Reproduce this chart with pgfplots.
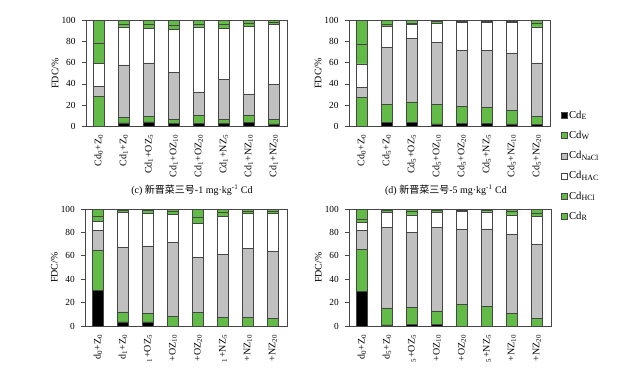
\documentclass[border=0pt]{standalone}
\usepackage{pgfplots}
\pgfplotsset{compat=1.18}
\usepackage{pgfplotstable}
\usepackage{fontspec}
\setmainfont{Liberation Serif}
\newfontfamily\cjk{Noto Sans CJK SC}
\definecolor{cgreen}{RGB}{98,187,70}
\definecolor{cgray}{RGB}{192,192,192}
\definecolor{cedge}{RGB}{70,70,70}

% columns: E = Cd_E, W = Cd_W, N = Cd_NaCl, H = Cd_HAC, C = Cd_HCl, R = Cd_R
\pgfplotstableread{
x E W N H C R
0 0 28 9.5 22 19 21.5
1 3 5 50 36 3 3
2 4 5 51 33 4 3
3 2.5 3.5 45 41 4 4
4 2.5 7.5 22 62 3 3
5 2.5 3.5 38 49 3.5 3.5
6 3.5 7 20 64 3 2.5
7 2 4 33.5 57 2 1.5
}\dataA
\pgfplotstableread{
x E W N H C R
0 0 27.5 9.5 22 19 22
1 3.5 17 54 20 2.5 3
2 3.5 19.5 60.5 13 1.5 2
3 2 18.5 59 18 1.5 1
4 2.5 16 53 27 1 0.5
5 2.5 15 54 27 1 0.5
6 2 13 54.5 29 1 0.5
7 1.5 7.5 51 34 4 2
}\dataB
\pgfplotstableread{
x E W N H C R
0 30.5 34.5 16.5 8 4 6.5
1 3.5 8.5 55.5 29.5 1.5 1.5
2 3.5 7.5 57.5 27.5 2.5 1.5
3 0 8.5 63 24 2.5 2
4 0 11.5 47 29.5 5 7
5 0 7.5 53.5 32.5 3.5 3
6 0 7.5 59 29.5 2 2
7 0 6.5 57.5 32 2 2
}\dataC
\pgfplotstableread{
x E W N H C R
0 29.5 36 16 7 3 8.5
1 1 14.5 69 12.5 1.5 1.5
2 1.5 14.5 64 15 3 2
3 1.5 11.5 71 13 1.5 1.5
4 0 18.5 64 15.5 1 1
5 0 16.5 66.5 14.5 1.5 1
6 0 11 67 17 3 2
7 0 6.5 63 24 3 3.5
}\dataD

\pgfplotsset{
  panel/.style={
    scale only axis,
    ybar stacked,
    bar width=0.44,
    ymin=0, ymax=100,
    xmin=-0.5, xmax=7.56,
    width=151.1pt,
    ytick={0,20,...,100},
    xtick={0,...,7},
    xticklabel style={rotate=90, anchor=east, font=\fontsize{7.5}{8}\selectfont},
    yticklabel style={font=\fontsize{7}{8}\selectfont, xshift=-1.5pt},
    /pgf/number format/assume math mode=true,
    tick pos=left,
    tick align=outside,
    major tick length=3pt,
    xtick style={draw=none},
    ytick style={cedge, line width=0.5pt},
    axis line style={cedge, line width=0.6pt},
    ylabel={FDC/\%},
    ylabel style={font=\fontsize{7.5}{8}\selectfont, at={(axis description cs:-0.154,0.5)}, anchor=center},
    every axis plot/.append style={draw=cedge, line width=0.4pt},
  },
  sE/.style={fill=black},
  sW/.style={fill=cgreen},
  sN/.style={fill=cgray},
  sH/.style={fill=white},
  sC/.style={fill=cgreen},
  sR/.style={fill=cgreen},
}

\newcommand{\bars}[1]{%
  \addplot[sE] table[x=x,y=E]{#1};
  \addplot[sW] table[x=x,y=W]{#1};
  \addplot[sN] table[x=x,y=N]{#1};
  \addplot[sH] table[x=x,y=H]{#1};
  \addplot[sC] table[x=x,y=C]{#1};
  \addplot[sR] table[x=x,y=R]{#1};
}

\begin{document}
\begin{tikzpicture}
\useasboundingbox (0pt,0pt) rectangle (480pt,-285pt);

% (a)
\begin{axis}[panel, at={(64.7pt,-94.5pt)}, anchor=south west, height=79pt,
  xticklabels={Cd\textsubscript{0}+Z\textsubscript{0},Cd\textsubscript{1}+Z\textsubscript{0},Cd\textsubscript{1}+OZ\textsubscript{5},Cd\textsubscript{1}+OZ\textsubscript{10},Cd\textsubscript{1}+OZ\textsubscript{20},Cd\textsubscript{1}+NZ\textsubscript{5},Cd\textsubscript{1}+NZ\textsubscript{10},Cd\textsubscript{1}+NZ\textsubscript{20}}]
\bars{\dataA}
\end{axis}

% (b)
\begin{axis}[panel, at={(261.9pt,-94.5pt)}, anchor=south west, height=79pt,
  xticklabels={Cd\textsubscript{0}+Z\textsubscript{0},Cd\textsubscript{5}+Z\textsubscript{0},Cd\textsubscript{5}+OZ\textsubscript{5},Cd\textsubscript{5}+OZ\textsubscript{10},Cd\textsubscript{5}+OZ\textsubscript{20},Cd\textsubscript{5}+NZ\textsubscript{5},Cd\textsubscript{5}+NZ\textsubscript{10},Cd\textsubscript{5}+NZ\textsubscript{20}},
  legend cell align=left,
  legend image code/.code={\draw[#1, line width=0.4pt] (0pt,-2.2pt) rectangle (4.5pt,2.3pt);},
  legend style={at={(1.051,0.165)}, anchor=north west, draw=none, fill=none,
    inner sep=0pt, row sep=5.15pt, font=\fontsize{8}{9}\selectfont,
    nodes={text height=6pt, text depth=2pt, inner sep=1pt}}]
\bars{\dataB}
\legend{Cd\textsubscript{E},Cd\textsubscript{W},Cd\textsubscript{NaCl},Cd\textsubscript{HAC},Cd\textsubscript{HCl},Cd\textsubscript{R}}
\end{axis}

% (c)
\begin{axis}[panel, at={(64.1pt,-244.5pt)}, anchor=south west, height=87.75pt,
  xticklabels={d\textsubscript{0}+Z\textsubscript{0},d\textsubscript{1}+Z\textsubscript{0},\textsubscript{1}+OZ\textsubscript{5},+OZ\textsubscript{10},+OZ\textsubscript{20},\textsubscript{1}+NZ\textsubscript{5},+NZ\textsubscript{10},+NZ\textsubscript{20}}]
\bars{\dataC}
\end{axis}

% (d)
\begin{axis}[panel, at={(262.1pt,-244.5pt)}, anchor=south west, height=87.75pt,
  xticklabels={d\textsubscript{0}+Z\textsubscript{0},d\textsubscript{5}+Z\textsubscript{0},\textsubscript{5}+OZ\textsubscript{5},+OZ\textsubscript{10},+OZ\textsubscript{20},\textsubscript{5}+NZ\textsubscript{5},+NZ\textsubscript{10},+NZ\textsubscript{20}}]
\bars{\dataD}
\end{axis}

\node[font=\fontsize{7.5}{9}\selectfont] at (144pt,-142.5pt) {(c) {\cjk 新晋菜三号}-1 mg·kg\textsuperscript{-1} Cd};
\node[font=\fontsize{7.5}{9}\selectfont] at (334.5pt,-142.5pt) {(d) {\cjk 新晋菜三号}-5 mg·kg\textsuperscript{-1} Cd};
\end{tikzpicture}
\end{document}
